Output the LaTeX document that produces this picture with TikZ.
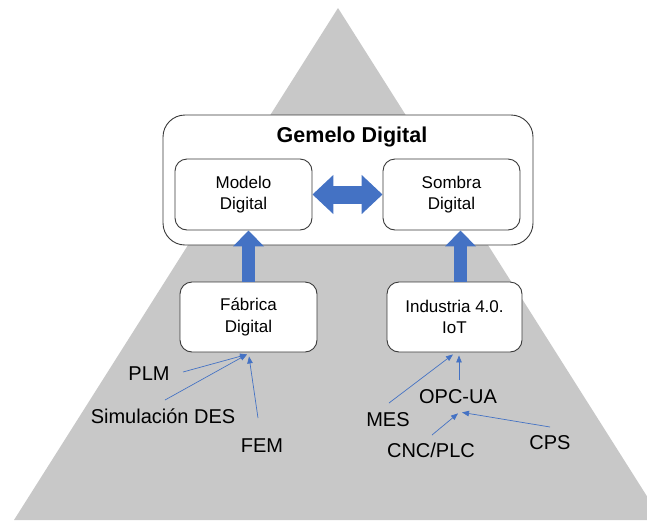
\documentclass[tikz,border=0pt]{standalone}
\usepackage{fontspec}
\setmainfont{Liberation Sans}
\usetikzlibrary{arrows.meta}
\definecolor{pyramid}{HTML}{C8C8C8}
\definecolor{accent}{HTML}{4472C4}
\definecolor{frame}{HTML}{3A3A3A}
\begin{document}
\begin{tikzpicture}[x=1pt,y=-1pt,
  box/.style={draw=frame, line width=0.9pt, fill=white, rounded corners=12pt,
    minimum width=137pt, minimum height=71pt, align=center, inner sep=0pt,
    font=\fontsize{17}{21.5}\selectfont},
  lbl/.style={font=\fontsize{20}{24}\selectfont, inner sep=0pt, anchor=base},
  feed/.style={draw=accent, line width=0.7pt, -{Triangle[length=7pt,width=5.5pt]}},
  bigup/.style={draw=accent, line width=13pt, -{Triangle[length=16pt,width=30pt]}},
]
\useasboundingbox (0,0) rectangle (647,520);
\clip (0,0) rectangle (647,520);

% pyramid background
\fill[pyramid] (338,8) -- (662,520) -- (14,520) -- cycle;

% digital twin frame
\node[draw=frame, line width=0.9pt, fill=white, rounded corners=22pt,
  minimum width=370pt, minimum height=130pt] (gemelo) at (348,180) {};
\node[font=\fontsize{21.5}{25}\selectfont\bfseries, anchor=base, inner sep=0pt]
  (titulo) at (352,142) {Gemelo Digital};

\node[box] (modelo) at (243.5,194.5) {Modelo\\Digital};
\node[box] (sombra) at (451.5,194.5) {Sombra\\Digital};
\node[box, minimum height=70pt] (fabrica) at (248.5,317) {Fábrica\\Digital};
\node[box, minimum width=135pt, minimum height=70pt] (industria) at (454.5,317) {Industria 4.0.\\IoT};

% block arrows
\draw[accent, line width=18pt,
  {Triangle[length=21pt,width=38pt]}-{Triangle[length=21pt,width=38pt]}]
  (modelo.east) -- (sombra.west);
\draw[bigup] (fabrica.north) -- (fabrica.north |- modelo.south);
\draw[bigup] ([xshift=6pt]industria.north) -- ([xshift=6pt]industria.north |- sombra.south);

% technology labels
\node[lbl] (plm) at (149,380) {PLM};
\node[lbl] (des) at (163,423) {Simulación DES};
\node[lbl] (fem) at (262,452) {FEM};
\node[lbl] (mes) at (388,426) {MES};
\node[lbl] (opc) at (458,403) {OPC-UA};
\node[lbl] (cnc) at (431,457) {CNC/PLC};
\node[lbl] (cps) at (550,449) {CPS};

% line start points beside the labels
\coordinate (plmout) at (183,372);
\coordinate (desout) at (165,400);
\coordinate (femout) at (258,418);
\coordinate (mesout) at (389,403);
\coordinate (opcout) at (459,380);
\coordinate (cncout) at (432,435);
\coordinate (cpsout) at (550,427);

% feed arrows
\draw[feed] (plmout) -- ([xshift=-1.5pt,yshift=-2pt]fabrica.south);
\draw[feed] (desout) -- ([xshift=-1.5pt,yshift=-2pt]fabrica.south);
\draw[feed] (femout) -- ([xshift=0.5pt,yshift=-4pt]fabrica.south);
\draw[feed] (mesout) -- ([xshift=-1.5pt,yshift=-2pt]industria.south);
\draw[feed] (opcout) -- ([xshift=4.5pt,yshift=-3pt]industria.south);
\draw[feed] (cncout) -- ([yshift=-10pt]opc.south);
\draw[feed] (cpsout) -- ([xshift=4pt,yshift=-9pt]opc.south);
\end{tikzpicture}
\end{document}
